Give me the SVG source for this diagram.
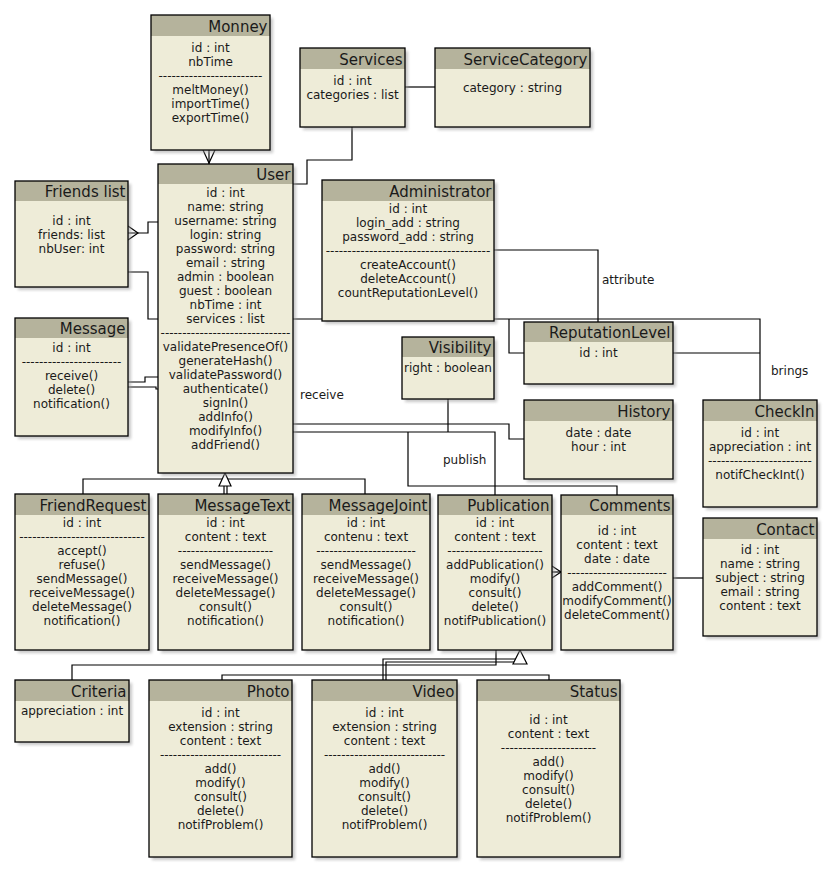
<svg xmlns="http://www.w3.org/2000/svg" width="836" height="876" viewBox="0 0 836 876">
<defs>
  <filter id="soft" x="-10%" y="-10%" width="120%" height="120%">
    <feGaussianBlur stdDeviation="1.6"/>
  </filter>
  <style>
    .sh{fill:#9a9a9a;opacity:.55;filter:url(#soft)}
    .bd{fill:#eeecd8}
    .hd{fill:#b5b39c}
    .ol{fill:none;stroke:#000;stroke-width:1.3}
    text{font-family:"DejaVu Sans","Liberation Sans",sans-serif;fill:#1a1a1a}
    .t{font-size:12px;text-anchor:middle}
    .h{font-size:15px;text-anchor:end}
    .lb{font-size:12px}
    .c{fill:none;stroke:#000;stroke-width:1.2}
    .tri{fill:#fff;stroke:#000;stroke-width:1.2}
  </style>
</defs>
<rect width="836" height="876" fill="#fff"/>

<!-- connectors -->
<g id="connectors">
  <!-- Monney / User -->
  <polyline class="c" points="203,150 209,163 215,150"/>
  <line class="c" x1="209" y1="150" x2="209" y2="164"/>
  <!-- Services / User -->
  <polyline class="c" points="352,127 352,160 307,160 307,184 293,184"/>
  <!-- Services / ServiceCategory -->
  <line class="c" x1="405" y1="87" x2="435" y2="87"/>
  <!-- Friends list / User -->
  <polyline class="c" points="128,226 138,233 128,240"/>
  <polyline class="c" points="128,233 148,233 148,222 158,222"/>
  <polyline class="c" points="128,272 148,272 148,319 158,319"/>
  <!-- Message / User -->
  <polyline class="c" points="128,382 145,382 145,377 158,377"/>
  <polyline class="c" points="128,387 156,387 156,389 158,389"/>
  <!-- User / CheckIn, ReputationLevel -->
  <polyline class="c" points="293,319 760,319 760,400"/>
  <polyline class="c" points="509,319 509,353 524,353"/>
  <!-- Administrator / ReputationLevel -->
  <polyline class="c" points="494,250 598,250 598,322"/>
  <!-- ReputationLevel / CheckIn -->
  <line class="c" x1="673" y1="353" x2="760" y2="353"/>
  <!-- User / History -->
  <polyline class="c" points="293,424 509,424 509,439 524,439"/>
  <!-- User / Publication -->
  <polyline class="c" points="293,432 495,432 495,495"/>
  <!-- Visibility -->
  <line class="c" x1="448" y1="399" x2="448" y2="432"/>
  <!-- User / Comments -->
  <polyline class="c" points="408,432 408,486 617,486 617,495"/>
  <!-- Publication / Comments -->
  <polyline class="c" points="552,566 561,572 552,578"/>
  <line class="c" x1="552" y1="572" x2="561" y2="572"/>
  <!-- Comments / Contact -->
  <line class="c" x1="673" y1="578" x2="703" y2="578"/>
  <!-- Message subclasses -->
  <polyline class="c" points="83,494 83,479 365,479 365,494"/>
  <line class="c" x1="224" y1="485" x2="224" y2="494"/>
  <line class="c" x1="227" y1="485" x2="227" y2="494"/>
  <polygon class="tri" points="225,473 219,486 231,486"/>
  <!-- Criteria / Publication -->
  <polyline class="c" points="72,680 72,665 496,665 496,650"/>
  <!-- Publication subclasses -->
  <polyline class="c" points="222,680 222,675 549,675 549,680"/>
  <polyline class="c" points="383,680 383,659 516,659"/>
  <polyline class="c" points="386,680 386,662 514,662"/>
  <polygon class="tri" points="520,650 513,664 527,664"/>
  <!-- labels -->
  <text class="lb" x="300" y="398.5">receive</text>
  <text class="lb" x="443" y="463.5">publish</text>
  <text class="lb" x="602" y="283.5">attribute</text>
  <text class="lb" x="771" y="374.5">brings</text>
</g>

<g id="monney">
  <rect class="sh" x="154" y="18" width="119" height="135"/>
  <rect class="bd" x="151" y="15" width="119" height="135"/>
  <rect class="hd" x="151" y="15" width="119" height="21"/>
  <rect class="ol" x="151" y="15" width="119" height="135"/>
  <text class="h" x="267.5" y="31.5">Monney</text>
  <text class="t" x="210.5" y="52">id : int</text>
  <text class="t" x="210.5" y="66">nbTime</text>
  <text class="t" x="210.5" y="80">------------------------</text>
  <text class="t" x="210.5" y="94">meltMoney()</text>
  <text class="t" x="210.5" y="108">importTime()</text>
  <text class="t" x="210.5" y="122">exportTime()</text>
</g>

<g id="services">
  <rect class="sh" x="303" y="51" width="105" height="79"/>
  <rect class="bd" x="300" y="48" width="105" height="79"/>
  <rect class="hd" x="300" y="48" width="105" height="21"/>
  <rect class="ol" x="300" y="48" width="105" height="79"/>
  <text class="h" x="402.5" y="64.5">Services</text>
  <text class="t" x="352.5" y="85">id : int</text>
  <text class="t" x="352.5" y="99">categories : list</text>
</g>

<g id="serviceCategory">
  <rect class="sh" x="438" y="51" width="155" height="79"/>
  <rect class="bd" x="435" y="48" width="155" height="79"/>
  <rect class="hd" x="435" y="48" width="155" height="21"/>
  <rect class="ol" x="435" y="48" width="155" height="79"/>
  <text class="h" x="587.5" y="64.5">ServiceCategory</text>
  <text class="t" x="512.5" y="92">category : string</text>
</g>

<g id="user">
  <rect class="sh" x="161" y="167" width="135" height="309"/>
  <rect class="bd" x="158" y="164" width="135" height="309"/>
  <rect class="hd" x="158" y="164" width="135" height="20"/>
  <rect class="ol" x="158" y="164" width="135" height="309"/>
  <text class="h" x="290.5" y="180">User</text>
  <text class="t" x="225.5" y="197">id : int</text>
  <text class="t" x="225.5" y="211">name: string</text>
  <text class="t" x="225.5" y="225">username: string</text>
  <text class="t" x="225.5" y="239">login: string</text>
  <text class="t" x="225.5" y="253">password: string</text>
  <text class="t" x="225.5" y="267">email : string</text>
  <text class="t" x="225.5" y="281">admin : boolean</text>
  <text class="t" x="225.5" y="295">guest : boolean</text>
  <text class="t" x="225.5" y="309">nbTime : int</text>
  <text class="t" x="225.5" y="323">services : list</text>
  <text class="t" x="225.5" y="337">------------------------------</text>
  <text class="t" x="225.5" y="351">validatePresenceOf()</text>
  <text class="t" x="225.5" y="365">generateHash()</text>
  <text class="t" x="225.5" y="379">validatePassword()</text>
  <text class="t" x="225.5" y="393">authenticate()</text>
  <text class="t" x="225.5" y="407">signIn()</text>
  <text class="t" x="225.5" y="421">addInfo()</text>
  <text class="t" x="225.5" y="435">modifyInfo()</text>
  <text class="t" x="225.5" y="449">addFriend()</text>
</g>

<g id="friendsList">
  <rect class="sh" x="18" y="184" width="113" height="106"/>
  <rect class="bd" x="15" y="181" width="113" height="106"/>
  <rect class="hd" x="15" y="181" width="113" height="20"/>
  <rect class="ol" x="15" y="181" width="113" height="106"/>
  <text class="h" x="125.5" y="196.5">Friends list</text>
  <text class="t" x="71.5" y="224.5">id : int</text>
  <text class="t" x="71.5" y="238.5">friends: list</text>
  <text class="t" x="71.5" y="252.5">nbUser: int</text>
</g>

<g id="message">
  <rect class="sh" x="18" y="321" width="113" height="118"/>
  <rect class="bd" x="15" y="318" width="113" height="118"/>
  <rect class="hd" x="15" y="318" width="113" height="20"/>
  <rect class="ol" x="15" y="318" width="113" height="118"/>
  <text class="h" x="125.5" y="333.5">Message</text>
  <text class="t" x="71.5" y="352">id : int</text>
  <text class="t" x="71.5" y="366">-----------------------</text>
  <text class="t" x="71.5" y="380">receive()</text>
  <text class="t" x="71.5" y="394">delete()</text>
  <text class="t" x="71.5" y="408">notification()</text>
</g>

<g id="administrator">
  <rect class="sh" x="325" y="183" width="172" height="141"/>
  <rect class="bd" x="322" y="180" width="172" height="141"/>
  <rect class="hd" x="322" y="180" width="172" height="21"/>
  <rect class="ol" x="322" y="180" width="172" height="141"/>
  <text class="h" x="491.5" y="196.5">Administrator</text>
  <text class="t" x="408" y="213">id : int</text>
  <text class="t" x="408" y="227">login_add : string</text>
  <text class="t" x="408" y="241">password_add : string</text>
  <text class="t" x="408" y="255">--------------------------------------</text>
  <text class="t" x="408" y="269">createAccount()</text>
  <text class="t" x="408" y="283">deleteAccount()</text>
  <text class="t" x="408" y="297">countReputationLevel()</text>
</g>

<g id="visibility">
  <rect class="sh" x="405" y="340" width="92" height="62"/>
  <rect class="bd" x="402" y="337" width="92" height="62"/>
  <rect class="hd" x="402" y="337" width="92" height="20"/>
  <rect class="ol" x="402" y="337" width="92" height="62"/>
  <text class="h" x="491.5" y="352.5">Visibility</text>
  <text class="t" x="448" y="372">right : boolean</text>
</g>

<g id="reputationLevel">
  <rect class="sh" x="527" y="325" width="149" height="62"/>
  <rect class="bd" x="524" y="322" width="149" height="62"/>
  <rect class="hd" x="524" y="322" width="149" height="20"/>
  <rect class="ol" x="524" y="322" width="149" height="62"/>
  <text class="h" x="670.5" y="337.5">ReputationLevel</text>
  <text class="t" x="598.5" y="357">id : int</text>
</g>

<g id="history">
  <rect class="sh" x="527" y="403" width="149" height="79"/>
  <rect class="bd" x="524" y="400" width="149" height="79"/>
  <rect class="hd" x="524" y="400" width="149" height="21"/>
  <rect class="ol" x="524" y="400" width="149" height="79"/>
  <text class="h" x="670.5" y="416.5">History</text>
  <text class="t" x="598.5" y="437">date : date</text>
  <text class="t" x="598.5" y="451">hour : int</text>
</g>

<g id="checkIn">
  <rect class="sh" x="706" y="403" width="114" height="107"/>
  <rect class="bd" x="703" y="400" width="114" height="107"/>
  <rect class="hd" x="703" y="400" width="114" height="21"/>
  <rect class="ol" x="703" y="400" width="114" height="107"/>
  <text class="h" x="814.5" y="416.5">CheckIn</text>
  <text class="t" x="760" y="437">id : int</text>
  <text class="t" x="760" y="451">appreciation : int</text>
  <text class="t" x="760" y="465">------------------------</text>
  <text class="t" x="760" y="479">notifCheckInt()</text>
</g>

<g id="contact">
  <rect class="sh" x="706" y="521" width="114" height="118"/>
  <rect class="bd" x="703" y="518" width="114" height="118"/>
  <rect class="hd" x="703" y="518" width="114" height="21"/>
  <rect class="ol" x="703" y="518" width="114" height="118"/>
  <text class="h" x="814.5" y="534.5">Contact</text>
  <text class="t" x="760" y="553.5">id : int</text>
  <text class="t" x="760" y="567.5">name : string</text>
  <text class="t" x="760" y="581.5">subject : string</text>
  <text class="t" x="760" y="595.5">email : string</text>
  <text class="t" x="760" y="609.5">content : text</text>
</g>

<g id="friendRequest">
  <rect class="sh" x="18" y="497" width="134" height="156"/>
  <rect class="bd" x="15" y="494" width="134" height="156"/>
  <rect class="hd" x="15" y="494" width="134" height="21"/>
  <rect class="ol" x="15" y="494" width="134" height="156"/>
  <text class="h" x="146.5" y="510.5">FriendRequest</text>
  <text class="t" x="82" y="527">id : int</text>
  <text class="t" x="82" y="541">-----------------------------</text>
  <text class="t" x="82" y="555">accept()</text>
  <text class="t" x="82" y="569">refuse()</text>
  <text class="t" x="82" y="583">sendMessage()</text>
  <text class="t" x="82" y="597">receiveMessage()</text>
  <text class="t" x="82" y="611">deleteMessage()</text>
  <text class="t" x="82" y="625">notification()</text>
</g>

<g id="messageText">
  <rect class="sh" x="161" y="497" width="135" height="156"/>
  <rect class="bd" x="158" y="494" width="135" height="156"/>
  <rect class="hd" x="158" y="494" width="135" height="21"/>
  <rect class="ol" x="158" y="494" width="135" height="156"/>
  <text class="h" x="290.5" y="510.5">MessageText</text>
  <text class="t" x="225.5" y="527">id : int</text>
  <text class="t" x="225.5" y="541">content : text</text>
  <text class="t" x="225.5" y="555">----------------------</text>
  <text class="t" x="225.5" y="569">sendMessage()</text>
  <text class="t" x="225.5" y="583">receiveMessage()</text>
  <text class="t" x="225.5" y="597">deleteMessage()</text>
  <text class="t" x="225.5" y="611">consult()</text>
  <text class="t" x="225.5" y="625">notification()</text>
</g>

<g id="messageJoint">
  <rect class="sh" x="305" y="497" width="128" height="156"/>
  <rect class="bd" x="302" y="494" width="128" height="156"/>
  <rect class="hd" x="302" y="494" width="128" height="21"/>
  <rect class="ol" x="302" y="494" width="128" height="156"/>
  <text class="h" x="427.5" y="510.5">MessageJoint</text>
  <text class="t" x="366" y="527">id : int</text>
  <text class="t" x="366" y="541">contenu : text</text>
  <text class="t" x="366" y="555">-----------------------</text>
  <text class="t" x="366" y="569">sendMessage()</text>
  <text class="t" x="366" y="583">receiveMessage()</text>
  <text class="t" x="366" y="597">deleteMessage()</text>
  <text class="t" x="366" y="611">consult()</text>
  <text class="t" x="366" y="625">notification()</text>
</g>

<g id="publication">
  <rect class="sh" x="441" y="498" width="114" height="155"/>
  <rect class="bd" x="438" y="495" width="114" height="155"/>
  <rect class="hd" x="438" y="495" width="114" height="20"/>
  <rect class="ol" x="438" y="495" width="114" height="155"/>
  <text class="h" x="549.5" y="510.5">Publication</text>
  <text class="t" x="495" y="527">id : int</text>
  <text class="t" x="495" y="541">content : text</text>
  <text class="t" x="495" y="555">----------------------</text>
  <text class="t" x="495" y="569">addPublication()</text>
  <text class="t" x="495" y="583">modify()</text>
  <text class="t" x="495" y="597">consult()</text>
  <text class="t" x="495" y="611">delete()</text>
  <text class="t" x="495" y="625">notifPublication()</text>
</g>

<g id="comments">
  <rect class="sh" x="564" y="498" width="112" height="155"/>
  <rect class="bd" x="561" y="495" width="112" height="155"/>
  <rect class="hd" x="561" y="495" width="112" height="20"/>
  <rect class="ol" x="561" y="495" width="112" height="155"/>
  <text class="h" x="670.5" y="510.5">Comments</text>
  <text class="t" x="617" y="534.5">id : int</text>
  <text class="t" x="617" y="548.5">content : text</text>
  <text class="t" x="617" y="562.5">date : date</text>
  <text class="t" x="617" y="576.5">-----------------------</text>
  <text class="t" x="617" y="590.5">addComment()</text>
  <text class="t" x="617" y="604.5">modifyComment()</text>
  <text class="t" x="617" y="618.5">deleteComment()</text>
</g>

<g id="criteria">
  <rect class="sh" x="18" y="683" width="114" height="62"/>
  <rect class="bd" x="15" y="680" width="114" height="62"/>
  <rect class="hd" x="15" y="680" width="114" height="21"/>
  <rect class="ol" x="15" y="680" width="114" height="62"/>
  <text class="h" x="126.5" y="696.5">Criteria</text>
  <text class="t" x="72" y="715">appreciation : int</text>
</g>

<g id="photo">
  <rect class="sh" x="152" y="683" width="143" height="177"/>
  <rect class="bd" x="149" y="680" width="143" height="177"/>
  <rect class="hd" x="149" y="680" width="143" height="21"/>
  <rect class="ol" x="149" y="680" width="143" height="177"/>
  <text class="h" x="289.5" y="696.5">Photo</text>
  <text class="t" x="220.5" y="716.5">id : int</text>
  <text class="t" x="220.5" y="730.5">extension : string</text>
  <text class="t" x="220.5" y="744.5">content : text</text>
  <text class="t" x="220.5" y="758.5">----------------------------</text>
  <text class="t" x="220.5" y="772.5">add()</text>
  <text class="t" x="220.5" y="786.5">modify()</text>
  <text class="t" x="220.5" y="800.5">consult()</text>
  <text class="t" x="220.5" y="814.5">delete()</text>
  <text class="t" x="220.5" y="828.5">notifProblem()</text>
</g>

<g id="video">
  <rect class="sh" x="315" y="683" width="145" height="177"/>
  <rect class="bd" x="312" y="680" width="145" height="177"/>
  <rect class="hd" x="312" y="680" width="145" height="21"/>
  <rect class="ol" x="312" y="680" width="145" height="177"/>
  <text class="h" x="454.5" y="696.5">Video</text>
  <text class="t" x="384.5" y="716.5">id : int</text>
  <text class="t" x="384.5" y="730.5">extension : string</text>
  <text class="t" x="384.5" y="744.5">content : text</text>
  <text class="t" x="384.5" y="758.5">----------------------------</text>
  <text class="t" x="384.5" y="772.5">add()</text>
  <text class="t" x="384.5" y="786.5">modify()</text>
  <text class="t" x="384.5" y="800.5">consult()</text>
  <text class="t" x="384.5" y="814.5">delete()</text>
  <text class="t" x="384.5" y="828.5">notifProblem()</text>
</g>

<g id="status">
  <rect class="sh" x="480" y="683" width="143" height="177"/>
  <rect class="bd" x="477" y="680" width="143" height="177"/>
  <rect class="hd" x="477" y="680" width="143" height="21"/>
  <rect class="ol" x="477" y="680" width="143" height="177"/>
  <text class="h" x="617.5" y="696.5">Status</text>
  <text class="t" x="548.5" y="723.5">id : int</text>
  <text class="t" x="548.5" y="737.5">content : text</text>
  <text class="t" x="548.5" y="751.5">----------------------</text>
  <text class="t" x="548.5" y="765.5">add()</text>
  <text class="t" x="548.5" y="779.5">modify()</text>
  <text class="t" x="548.5" y="793.5">consult()</text>
  <text class="t" x="548.5" y="807.5">delete()</text>
  <text class="t" x="548.5" y="821.5">notifProblem()</text>
</g>
</svg>
